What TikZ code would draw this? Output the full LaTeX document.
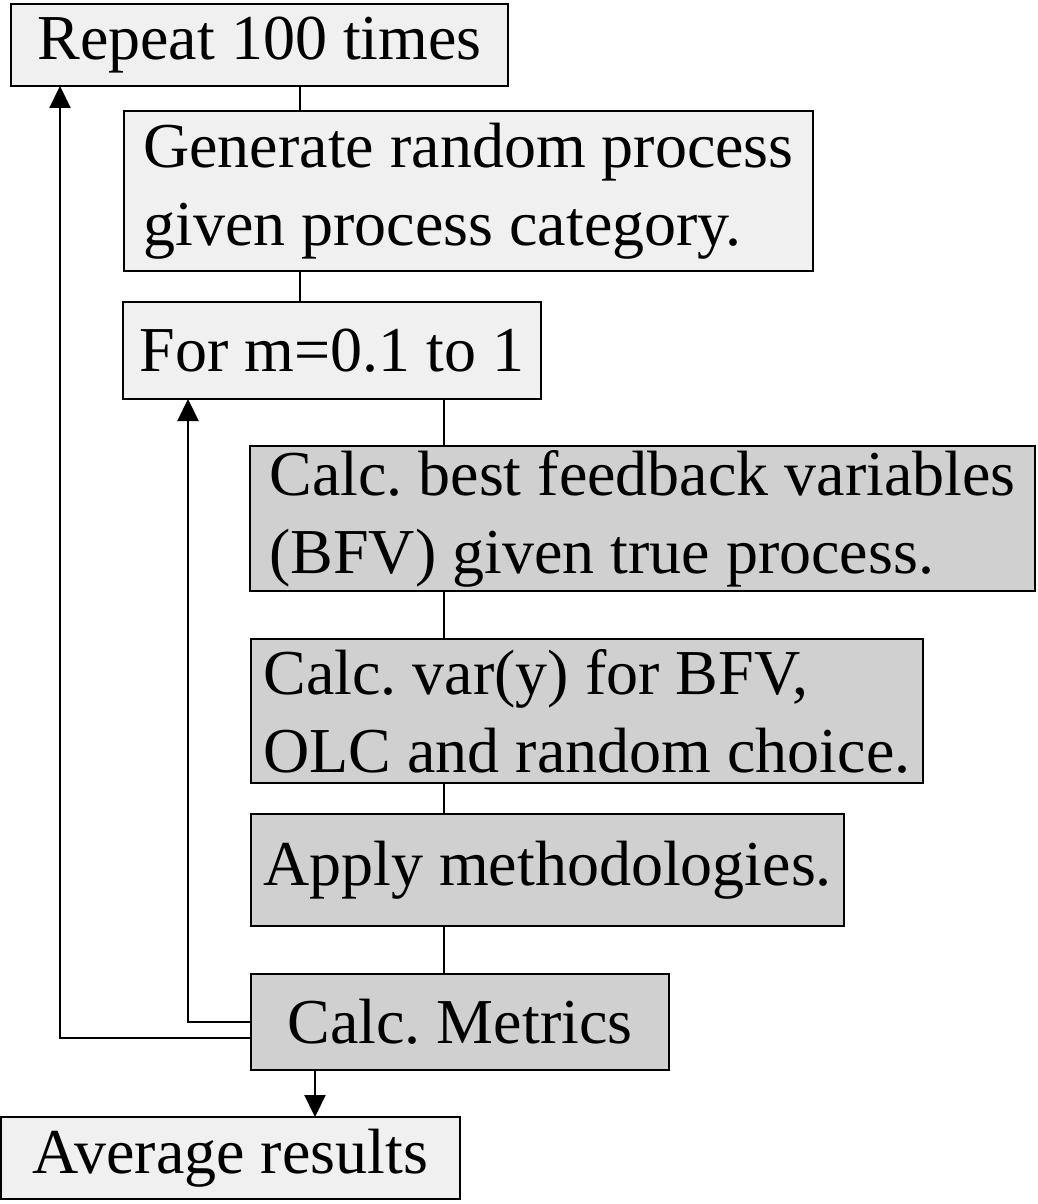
\documentclass[tikz,border=0pt]{standalone}
\usepackage{fontspec}
\setmainfont{Liberation Serif}
\usetikzlibrary{arrows.meta}
\frenchspacing

\begin{document}
\begin{tikzpicture}[x=1pt,y=-1pt,
    box/.style={draw,line width=2.6pt,outer sep=0pt,inner sep=0pt,align=left,
      font=\fontsize{64}{78}\selectfont},
    lightbox/.style={box,fill=gray!12},
    darkbox/.style={box,fill=gray!37},
    link/.style={line width=2.2pt},
    back/.style={line width=2.2pt,-{Triangle[length=22pt,width=21pt]}}]
  \useasboundingbox (0,0) rectangle (1037,1204);
  % outer loop
  \node[lightbox,minimum width=497pt,minimum height=82pt] (rep) at (259.5,45) {Repeat 100 times};
  \node[lightbox,minimum width=689pt,minimum height=160pt] (gen) at (468.5,191) {Generate random process\\given process category.};
  % inner loop
  \node[lightbox,minimum width=418pt,minimum height=97pt] (form) at (332,350.5) {For m=0.1 to 1};
  \node[darkbox,minimum width=785pt,minimum height=145pt] (bfv) at (642.5,518.5) {Calc. best feedback variables\\(BFV) given true process.};
  \node[darkbox,minimum width=672pt,minimum height=144pt] (var) at (587,711) {Calc. var(y) for BFV,\\OLC and random choice.};
  \node[darkbox,minimum width=593pt,minimum height=112pt] (apply) at (547.5,870) {Apply methodologies.};
  \node[darkbox,minimum width=418pt,minimum height=96pt] (metr) at (460,1022) {Calc. Metrics};
  \node[lightbox,minimum width=459pt,minimum height=82pt] (avg) at (230.5,1158) {Average results};
  % connectors
  \coordinate (a) at (300,0);
  \coordinate (b) at (444,0);
  \coordinate (c) at (315,0);
  \draw[link] (rep.south -| a) -- (gen.north -| a);
  \draw[link] (gen.south -| a) -- (form.north -| a);
  \draw[link] (form.south -| b) -- (bfv.north -| b);
  \draw[link] (bfv.south -| b) -- (var.north -| b);
  \draw[link] (var.south -| b) -- (apply.north -| b);
  \draw[link] (apply.south -| b) -- (metr.north -| b);
  \draw[back] (metr.south -| c) -- (avg.north -| c);
  % loop returns
  \coordinate (p) at (60,0);
  \coordinate (q) at (188,0);
  \draw[back] ([yshift=-16pt]metr.west) -| (rep.south -| p);
  \draw[back] (metr.west) -| (form.south -| q);
\end{tikzpicture}
\end{document}
